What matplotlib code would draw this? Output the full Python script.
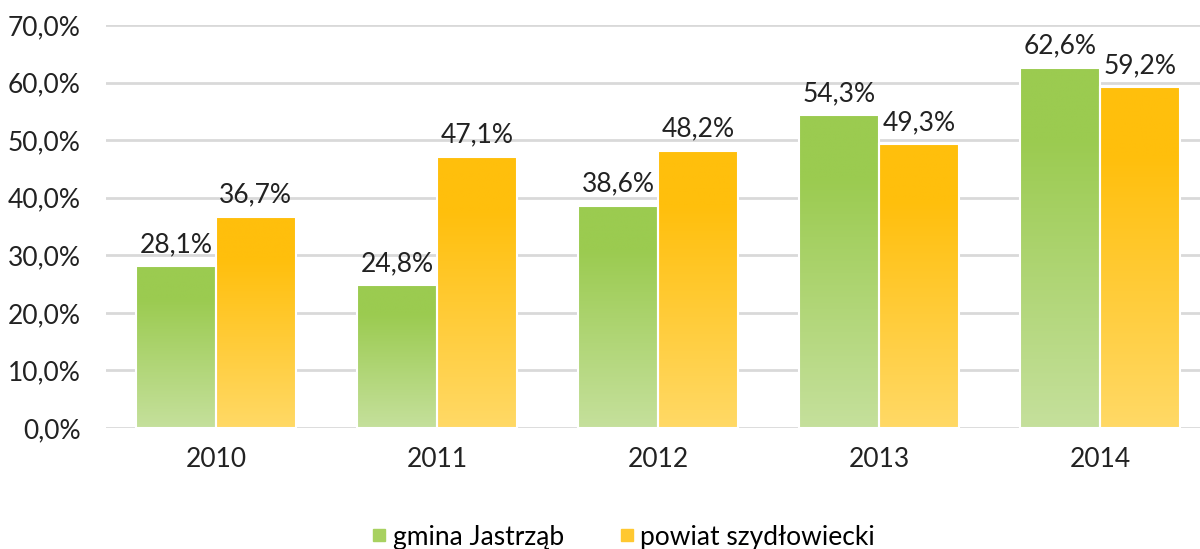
import numpy as np
import matplotlib
matplotlib.use("Agg")
import matplotlib.pyplot as plt
from matplotlib.colors import LinearSegmentedColormap
from matplotlib.lines import Line2D

plt.rcParams['font.family'] = ['Lato', 'DejaVu Sans']

years = ['2010', '2011', '2012', '2013', '2014']
gmina = [28.1, 24.8, 38.6, 54.3, 62.6]
powiat = [36.7, 47.1, 48.2, 49.3, 59.2]
series_names = ['gmina Jastrząb', 'powiat szydłowiecki']

green_top, green_bot = '#9BCB50', '#C5E09C'
yel_top, yel_bot = '#FFBF0C', '#FFD966'
txt = '#222222'
fs = 19

fig = plt.figure(figsize=(12, 5.49), dpi=100)
ax = fig.add_axes([105.5 / 1200, (549 - 428) / 549, 1105 / 1200, (428 - 25) / 549])

x = np.arange(len(years))
w = 0.36

def grad_bar(xc, h, ctop, cbot):
    bars = ax.bar([xc], [h], width=w, facecolor='none', edgecolor='white', linewidth=1.5, zorder=3)
    b = bars[0]
    cmap = LinearSegmentedColormap.from_list('g', [(0, cbot), (0.8, ctop), (1, ctop)])
    grad = np.linspace(0, 1, 256).reshape(-1, 1)
    im = ax.imshow(grad, cmap=cmap, origin='lower', aspect='auto',
                   extent=[xc - w / 2, xc + w / 2, 0, h], zorder=2, interpolation='bilinear')
    im.set_clip_path(b)
    return b

for i in range(len(years)):
    grad_bar(x[i] - w / 2, gmina[i], green_top, green_bot)
    grad_bar(x[i] + w / 2, powiat[i], yel_top, yel_bot)
    ax.text(x[i] - w / 2, gmina[i] + 1.6, f"{gmina[i]:.1f}%".replace('.', ','),
            ha='center', va='bottom', fontsize=fs, color=txt, zorder=4)
    ax.text(x[i] + w / 2, powiat[i] + 1.6, f"{powiat[i]:.1f}%".replace('.', ','),
            ha='center', va='bottom', fontsize=fs, color=txt, zorder=4)

ax.set_xlim(-0.5, len(years) - 0.5)
ax.set_ylim(0, 70)
ax.set_yticks(np.arange(0, 71, 10))
ax.set_yticklabels([f"{v:.1f}%".replace('.', ',') for v in np.arange(0, 71, 10)])
ax.set_xticks(x)
ax.set_xticklabels(years)
ax.tick_params(axis='both', length=0, labelsize=fs, colors=txt)
ax.tick_params(axis='y', pad=18)
ax.tick_params(axis='x', pad=14)
ax.yaxis.grid(True, color='#D9D9D9', linewidth=2)
ax.set_axisbelow(True)
for s in ax.spines.values():
    s.set_visible(False)

handles = [Line2D([], [], marker='s', linestyle='none', markersize=9, color='#A8D160'),
           Line2D([], [], marker='s', linestyle='none', markersize=9, color='#FFC830')]
fig.legend(handles, series_names, loc='center', bbox_to_anchor=(622 / 1200, 1 - 537 / 549),
           ncol=2, frameon=False, fontsize=fs, handletextpad=0.1, columnspacing=2.0,
           handlelength=0.8)

fig.savefig('out.png', dpi=100)
